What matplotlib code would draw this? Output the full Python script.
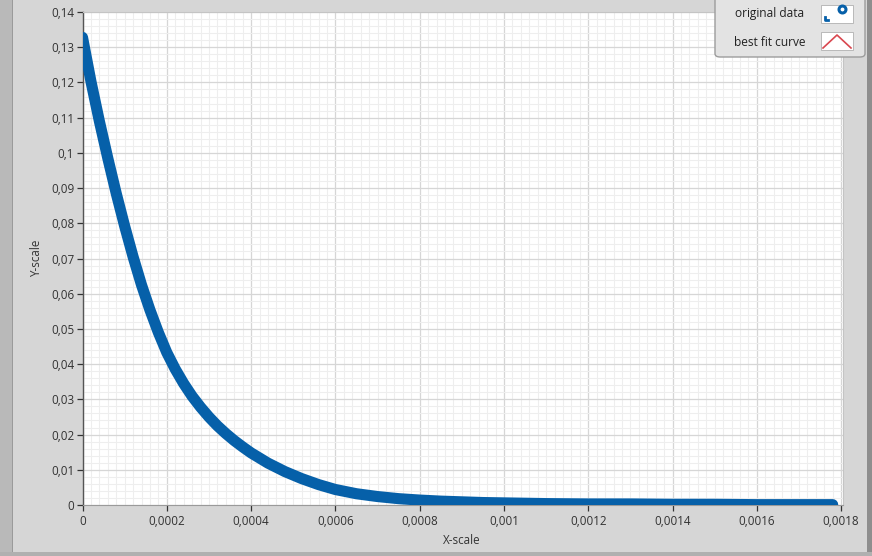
import matplotlib
matplotlib.use("Agg")
import matplotlib.pyplot as plt
from matplotlib.patches import FancyBboxPatch, Rectangle
from matplotlib.ticker import FixedLocator, MultipleLocator
from matplotlib.lines import Line2D

# ---- data ----
x_data = [0.0, 0.00002, 0.00004, 0.00006, 0.00008, 0.0001, 0.00012, 0.00014,
          0.00016, 0.00018, 0.0002, 0.00022, 0.00024, 0.00026, 0.00028, 0.0003,
          0.00032, 0.00034, 0.00036, 0.00038, 0.0004, 0.00044, 0.00048, 0.00052,
          0.00056, 0.0006, 0.00065, 0.0007, 0.00075, 0.0008, 0.00085, 0.0009,
          0.00095, 0.001, 0.0011, 0.0012, 0.0013, 0.0014, 0.0015, 0.0016,
          0.0017, 0.00178]
y_data = [0.1328, 0.1203, 0.1090, 0.0985, 0.0885, 0.0792, 0.0705, 0.0625,
          0.0554, 0.0490, 0.0433, 0.0386, 0.0345, 0.0309, 0.0278, 0.0250,
          0.0225, 0.0203, 0.0183, 0.0165, 0.0148, 0.0119, 0.0095, 0.0075,
          0.0058, 0.0044, 0.0032, 0.0024, 0.0018, 0.0014, 0.0011, 0.0009,
          0.0007, 0.0006, 0.0004, 0.0003, 0.0003, 0.0002, 0.0002, 0.0001,
          0.0001, 0.0001]

x_ticks = [0, 0.0002, 0.0004, 0.0006, 0.0008, 0.001, 0.0012, 0.0014, 0.0016, 0.0018]
x_tick_labels = ["0", "0,0002", "0,0004", "0,0006", "0,0008", "0,001",
                 "0,0012", "0,0014", "0,0016", "0,0018"]
y_ticks = [0, 0.01, 0.02, 0.03, 0.04, 0.05, 0.06, 0.07, 0.08, 0.09, 0.1,
           0.11, 0.12, 0.13, 0.14]
y_tick_labels = ["0", "0,01", "0,02", "0,03", "0,04", "0,05", "0,06", "0,07",
                 "0,08", "0,09", "0,1", "0,11", "0,12", "0,13", "0,14"]
legend_labels = ["original data", "best fit curve"]
x_label = "X-scale"
y_label = "Y-scale"

# ---- figure ----
W, H = 872, 556
DPI = 100
plt.rcParams['font.family'] = ['Open Sans', 'DejaVu Sans']
fig = plt.figure(figsize=(W / DPI, H / DPI), dpi=DPI)
fig.patch.set_facecolor('#d6d6d6')

# panel look (darker left strip, right edge, bottom edge)
fig.patches.append(Rectangle((0, 0), 12 / W, 1, transform=fig.transFigure,
                             facecolor='#b9b9b9', edgecolor='none', zorder=0))
fig.patches.append(Rectangle((12 / W, 0), 1.2 / W, 1, transform=fig.transFigure,
                             facecolor='#9a9a9a', edgecolor='none', zorder=0))
fig.patches.append(Rectangle((867 / W, 0), 5 / W, 1, transform=fig.transFigure,
                             facecolor='#8e8e8e', edgecolor='none', zorder=0))
fig.patches.append(Rectangle((0, 0), 1, 4 / H, transform=fig.transFigure,
                             facecolor='#b0b0b0', edgecolor='none', zorder=0))

left, right, top, bottom = 82.5, 843, 12, 505
ax = fig.add_axes([left / W, 1 - bottom / H, (right - left) / W, (bottom - top) / H])
ax.set_facecolor('white')

ax.plot(x_data, y_data, color='#0660a9', lw=8.0, solid_capstyle='round',
        solid_joinstyle='round', zorder=3)

ax.set_xlim(0, 0.0018045)
ax.set_ylim(0, 0.14)

ax.xaxis.set_major_locator(FixedLocator(x_ticks))
ax.set_xticklabels(x_tick_labels)
ax.yaxis.set_major_locator(FixedLocator(y_ticks))
ax.set_yticklabels(y_tick_labels)
ax.xaxis.set_minor_locator(MultipleLocator(0.00002))
ax.yaxis.set_minor_locator(MultipleLocator(0.002))

ax.grid(which='minor', color='#eeeeee', lw=0.75, zorder=0)
ax.grid(which='major', color='#d6d6d6', lw=0.9, zorder=1)
ax.set_axisbelow(True)

ax.tick_params(axis='both', which='major', labelsize=8.4, colors='#333333',
               labelcolor='#333333', length=4, width=0.9, pad=2)
ax.tick_params(axis='both', which='minor', length=0)
ax.tick_params(axis='x', pad=3)

for s in ['top', 'right']:
    ax.spines[s].set_color('#c4c4c4')
    ax.spines[s].set_linewidth(0.8)
ax.spines['left'].set_color('#555555')
ax.spines['left'].set_linewidth(1.0)
ax.spines['bottom'].set_color('#9a9a9a')
ax.spines['bottom'].set_linewidth(0.8)

fig.text(462 / W, 1 - 541 / H, x_label, ha='center', va='center',
         fontsize=8.4, color='#333333')
fig.text(37 / W, 1 - 258 / H, y_label, ha='center', va='center',
         rotation=90, fontsize=8.4, color='#333333')

# ---- legend box (LabVIEW style) ----
lx0, lx1, ly0, ly1 = 715, 865, -6, 57
fig.patches.append(FancyBboxPatch((lx0 / W, 1 - ly1 / H), (lx1 - lx0) / W,
                                  (ly1 - ly0) / H,
                                  boxstyle="round,pad=0,rounding_size=0.006",
                                  transform=fig.transFigure, facecolor='#e3e3e3',
                                  edgecolor='#9c9c9c', lw=1.0, zorder=5))
rows_y = [14, 42]
for lab, ry in zip(legend_labels, rows_y):
    fig.text(770 / W, 1 - ry / H, lab, ha='center', va='center', fontsize=8.6,
             color='#222222', zorder=7)
icon_boxes = [(821, 5, 853, 23), (821, 32, 853, 50)]
for (ix0, iy0, ix1, iy1) in icon_boxes:
    fig.patches.append(Rectangle((ix0 / W, 1 - iy1 / H), (ix1 - ix0) / W,
                                 (iy1 - iy0) / H, transform=fig.transFigure,
                                 facecolor='white', edgecolor='#b0b0b0', lw=0.6,
                                 zorder=6))
# original data icon: blue symbols
fig.add_artist(Line2D([842 / W], [1 - 9 / H], marker='o', markersize=5,
                      markerfacecolor='white', markeredgecolor='#0660a9',
                      markeredgewidth=2.2, transform=fig.transFigure, zorder=7))
fig.add_artist(Line2D([825 / W, 825 / W, 828 / W], [1 - 17 / H, 1 - 20 / H, 1 - 20 / H],
                      color='#0660a9', lw=2.0, transform=fig.transFigure, zorder=7))
# best fit curve icon: red chevron
fig.add_artist(Line2D([823 / W, 837 / W, 851 / W], [1 - 48 / H, 1 - 35 / H, 1 - 48 / H],
                      color='#d9474f', lw=1.2, transform=fig.transFigure, zorder=7))

fig.savefig('out.png', dpi=DPI, facecolor=fig.get_facecolor())
